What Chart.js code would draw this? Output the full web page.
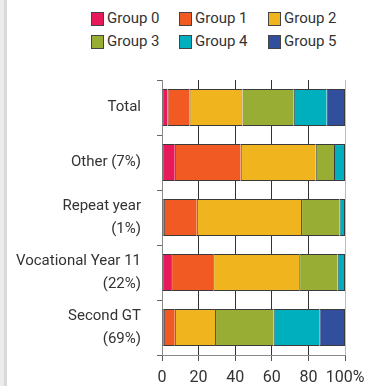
<!DOCTYPE html>
<html lang="en">
<head>
<meta charset="UTF-8">
<title>Groups by pathway</title>
<script src="https://cdn.jsdelivr.net/npm/chart.js@4.4.0/dist/chart.umd.min.js"></script>
<style>
    html, body {
        margin: 0;
        padding: 0;
        background: #fff;
    }
    body {
        width: 372px;
        height: 386px;
        position: relative;
        overflow: hidden;
        font-family: Roboto, "Liberation Sans", sans-serif;
        color: #333;
    }
    .edge {
        position: absolute;
        left: 0;
        top: 0;
        width: 4px;
        height: 386px;
        background: #ececec;
        border-right: 3px solid #dadada;
    }
    #legend {
        position: absolute;
        left: 91px;
        top: 11px;
        display: grid;
        grid-template-columns: 88px 89px 88px;
        row-gap: 8px;
        font-size: 15px;
        line-height: 15px;
    }
    .item {
        display: flex;
        align-items: center;
        white-space: nowrap;
    }
    .swatch {
        width: 11px;
        height: 12px;
        border: 1px solid #444;
        margin-right: 3px;
    }
    .chart-box {
        position: absolute;
        left: 0;
        top: 0;
        width: 372px;
        height: 386px;
    }
</style>
</head>
<body>
<div class="edge"></div>
<div id="legend"></div>
<div class="chart-box"><canvas id="chart"></canvas></div>

<script>
    const categories = ['Total', 'Other (7%)', ['Repeat year', '(1%)'], ['Vocational Year 11', '(22%)'], ['Second GT', '(69%)']];
    const groupNames = ['Group 0', 'Group 1', 'Group 2', 'Group 3', 'Group 4', 'Group 5'];
    const groupColors = ['#e8195a', '#f15a22', '#f0b41f', '#98ad33', '#00afbd', '#324f9e'];

    // share (%) of each group per category, top to bottom
    const group0 = [3, 7, 1, 5, 1];
    const group1 = [12, 36, 18, 23, 6];
    const group2 = [29, 41, 57, 47, 22];
    const group3 = [28, 10, 21, 21, 32];
    const group4 = [18, 6, 3, 4, 25];
    const group5 = [10, 0, 0, 0, 14];
    const groupValues = [group0, group1, group2, group3, group4, group5];

    const xTicks = [0, 20, 40, 60, 80, 100];
    const xTickLabels = ['0', '20', '40', '60', '80', '100%'];

    const fontFamily = 'Roboto, "Liberation Sans", sans-serif';

    // last non-empty segment of a row gets the closing right border
    function isLastSegment(datasetIndex, row) {
        for (let d = datasetIndex + 1; d < groupValues.length; d++) {
            if (groupValues[d][row] > 0) return false;
        }
        return true;
    }

    const datasets = groupNames.map((name, i) => ({
        label: name,
        data: groupValues[i],
        backgroundColor: groupColors[i],
        borderColor: '#3a3a3a',
        borderSkipped: false,
        borderWidth: ctx => ({
            left: 1,
            top: 1,
            bottom: 1,
            right: isLastSegment(ctx.datasetIndex, ctx.dataIndex) ? 1 : 0
        }),
        categoryPercentage: 1,
        barPercentage: 0.67
    }));

    // legend in three columns
    const legend = document.getElementById('legend');
    groupNames.forEach((name, i) => {
        const item = document.createElement('div');
        item.className = 'item';
        const sw = document.createElement('span');
        sw.className = 'swatch';
        sw.style.background = groupColors[i];
        const txt = document.createElement('span');
        txt.textContent = name;
        item.appendChild(sw);
        item.appendChild(txt);
        legend.appendChild(item);
    });

    new Chart(document.getElementById('chart'), {
        type: 'bar',
        data: {
            labels: categories,
            datasets: datasets
        },
        options: {
            indexAxis: 'y',
            responsive: true,
            maintainAspectRatio: false,
            animation: false,
            layout: {
                padding: { top: 80, right: 27, left: 0, bottom: 0 }
            },
            plugins: {
                legend: { display: false },
                tooltip: { enabled: false }
            },
            scales: {
                x: {
                    stacked: true,
                    min: 0,
                    max: 100,
                    afterBuildTicks: scale => {
                        scale.ticks = xTicks.map(v => ({ value: v }));
                    },
                    afterFit: scale => {
                        scale.height = 31;
                    },
                    ticks: {
                        color: '#333',
                        padding: 7,
                        maxRotation: 0,
                        minRotation: 0,
                        autoSkip: false,
                        font: { family: fontFamily, size: 16 },
                        callback: (value) => xTickLabels[xTicks.indexOf(value)]
                    },
                    grid: {
                        color: ctx => {
                            if (ctx.tick && ctx.tick.value === 100) return '#bdbdbd';
                            if (ctx.tick && ctx.tick.value === 0) return '#8a8a8a';
                            return '#333';
                        },
                        tickColor: '#555',
                        tickLength: 6,
                        lineWidth: 1
                    },
                    border: { display: true, color: '#8a8a8a' }
                },
                y: {
                    stacked: true,
                    afterFit: scale => {
                        scale.width = 162;
                    },
                    ticks: {
                        color: '#333',
                        padding: 16,
                        font: { family: fontFamily, size: 15, lineHeight: 1.5 }
                    },
                    grid: {
                        offset: true,
                        drawOnChartArea: false,
                        tickLength: 5,
                        tickColor: '#666'
                    },
                    border: { display: true, color: '#8a8a8a' }
                }
            }
        }
    });
</script>
</body>
</html>
